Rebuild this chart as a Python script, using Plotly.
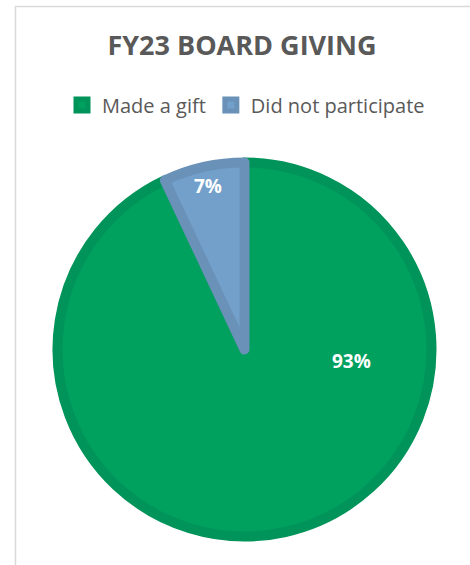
import math
import plotly.graph_objects as go

categories = ["Made a gift", "Did not participate"]
values = [93, 7]
labels_text = ["93%", "7%"]

W, H = 470, 565
cx, cy, r = 244.5, 349.5, 187

# label placement (style): angle (deg, clockwise from 12 o'clock) and radial fraction
label_style = [dict(angle=96, frac=0.56, absolute=True),
               dict(angle=None, frac=0.87, absolute=False)]

fig = go.Figure(go.Pie(
    labels=categories,
    values=values,
    textinfo="none",
    sort=False,
    direction="clockwise",
    rotation=0,
    marker=dict(colors=["#00A05F", "#72A0CB"],
                line=dict(color=["#00935A", "#6A92B8"], width=10)),
    domain=dict(x=[(cx - r) / W, (cx + r) / W],
                y=[(H - cy - r) / H, (H - cy + r) / H]),
    hoverinfo="none",
))

# data labels computed from the values
total = sum(values)
start = 0.0
annotations = []
for v, t, st in zip(values, labels_text, label_style):
    span = 360.0 * v / total
    ang = st["angle"] if st["absolute"] else start + span / 2
    rr = (r + 5) * st["frac"]
    px = cx + rr * math.sin(math.radians(ang))
    py = cy - rr * math.cos(math.radians(ang))
    annotations.append(dict(x=px / W, y=1 - py / H, xref="paper", yref="paper",
                            xanchor="center", yanchor="middle",
                            text=f"<b>{t}</b>", showarrow=False,
                            font=dict(family="Open Sans", size=19, color="white")))
    start += span

fig.update_layout(
    width=W, height=H,
    margin=dict(l=0, r=0, t=0, b=0),
    paper_bgcolor="white",
    plot_bgcolor="white",
    title=dict(text="<b>FY23 BOARD GIVING</b>", x=242 / W, xanchor="center",
               y=1 - 46 / H, yanchor="middle",
               font=dict(family="Open Sans", size=27, color="#595959")),
    legend=dict(orientation="h", x=246 / W, xanchor="center",
                y=1 - 105 / H, yanchor="middle",
                font=dict(family="Open Sans", size=20, color="#595959"),
                itemwidth=30),
    showlegend=True,
    annotations=annotations,
    shapes=[dict(type="rect", xref="paper", yref="paper",
                 x0=15.5 / W, x1=1.2, y0=-0.2, y1=1 - 6.5 / H,
                 line=dict(color="#D9D9D9", width=1.5))],
)

fig.write_html("out.html")
